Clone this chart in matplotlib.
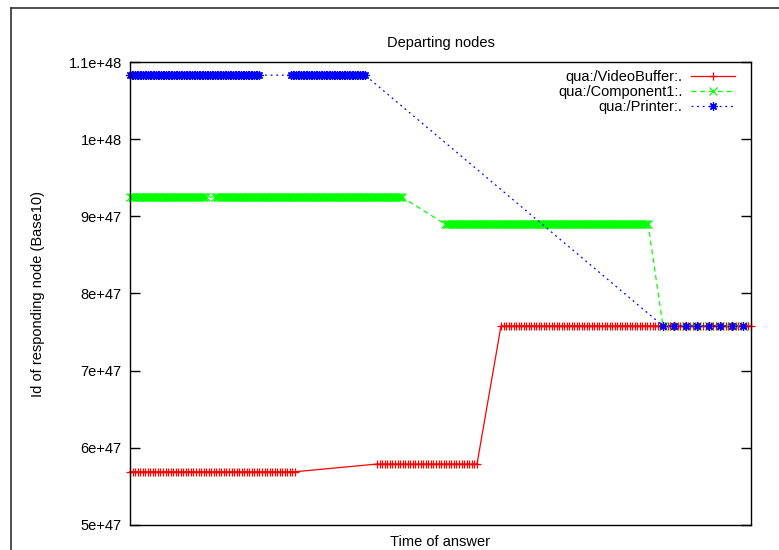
import numpy as np
import matplotlib
matplotlib.use("Agg")
import matplotlib.pyplot as plt
from matplotlib.lines import Line2D

plt.rcParams['font.family'] = ['Liberation Sans', 'DejaVu Sans']

# Each run of answers: first time, last time, number of answers, responding node id
vb_start = [0, 247, 371]
vb_end = [165, 347, 621]
vb_count = [66, 40, 100]
vb_id = [5.69e47, 5.79e47, 7.58e47]

c1_start = [0, 85, 315, 533]
c1_end = [76, 272, 518, 613]
c1_count = [45, 110, 120, 8]
c1_id = [9.25e47, 9.25e47, 8.90e47, 7.58e47]

pr_start = [0, 161, 533]
pr_end = [129, 235, 613]
pr_count = [80, 46, 8]
pr_id = [1.083e48, 1.083e48, 7.58e47]

labels = ["qua:/VideoBuffer:.", "qua:/Component1:.", "qua:/Printer:."]
yticks = [5e47, 6e47, 7e47, 8e47, 9e47, 1e48, 1.1e48]
ytick_labels = ["5e+47", "6e+47", "7e+47", "8e+47", "9e+47", "1e+48", "1.1e+48"]


def expand(starts, ends, counts, ids):
    t, v = [], []
    for s, e, n, val in zip(starts, ends, counts, ids):
        tt = np.linspace(s, e, n)
        t.extend(tt)
        v.extend([val] * n)
    return np.array(t), np.array(v)


W, H = 779, 550
fig = plt.figure(figsize=(W / 100, H / 100), dpi=100)
ax = fig.add_axes([130 / W, 1 - 525 / H, (751 - 130) / W, (525 - 62) / H])

asterisk = (8, 2, 0)
series = [
    (expand(vb_start, vb_end, vb_count, vb_id), "#ff0000", "-", "+", (None, None), 5.2),
    (expand(c1_start, c1_end, c1_count, c1_id), "#00ff00", "--", "x", (4, 3), 5.2),
    (expand(pr_start, pr_end, pr_count, pr_id), "#0000ff", ":", asterisk, (1.5, 3), 6.0),
]

for (data, color, ls, mk, dash, ms), label in zip(series, labels):
    t, v = data
    kw = {}
    if dash[0] is not None:
        kw['dashes'] = dash
    ax.plot(t, v, color=color, linestyle=ls, lw=0.9, marker=mk, markersize=ms,
            markeredgewidth=0.9, label=label, clip_on=False, **kw)

ax.set_xlim(0, 621)
ax.set_ylim(5e47, 1.1e48)
ax.set_xticks([])
ax.set_yticks(yticks)
ax.set_yticklabels(ytick_labels)
ax.tick_params(axis='y', direction='in', length=7, width=1, right=True,
               labelsize=10.5, pad=6)
for sp in ax.spines.values():
    sp.set_linewidth(1)
    sp.set_color('black')

ax.set_title("Departing nodes", fontsize=10.5, pad=11)
ax.set_xlabel("Time of answer", fontsize=10.5, labelpad=7)
ax.set_ylabel("Id of responding node (Base10)", fontsize=10.5, labelpad=17)

leg = ax.legend(loc='upper right', frameon=False, markerfirst=False,
                fontsize=10.5, handlelength=3.0, handletextpad=0.6,
                labelspacing=0.05, borderaxespad=0.3,
                bbox_to_anchor=(0.991, 1.004))

# outer border around the whole drawing
fig.add_artist(Line2D([11 / W, 1.0], [1 - 8 / H, 1 - 8 / H], color='#333333', lw=1.2,
                      transform=fig.transFigure))
fig.add_artist(Line2D([11 / W, 11 / W], [0.0, 1 - 8 / H], color='#333333', lw=1.2,
                      transform=fig.transFigure))

fig.savefig("out.png", dpi=100)
